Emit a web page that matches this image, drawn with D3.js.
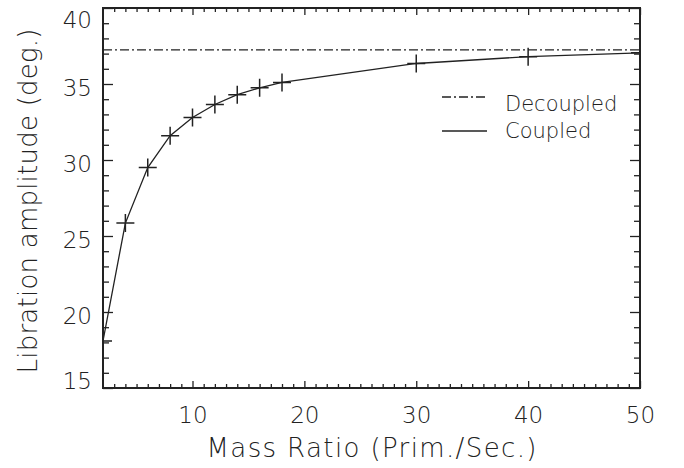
<!DOCTYPE html>
<html><head><meta charset="utf-8">
<script src="https://cdn.jsdelivr.net/npm/d3@7"></script>
<style>
body{margin:0;background:#fff;}
text{font-family:"DejaVu Sans",sans-serif;font-weight:200;fill:#222;}
</style></head>
<body><svg id="c" width="684" height="468"></svg>
<script>
const massRatio = [2, 4, 6, 8, 10, 12, 14, 16, 18, 30, 40, 50];
const coupled   = [18.1, 25.85, 29.5, 31.6, 32.8, 33.65, 34.3, 34.75, 35.1, 36.35, 36.8, 37.05];
const decoupled = 37.24;
const xTicks = [10, 20, 30, 40, 50];
const yTicks = [15, 20, 25, 30, 35, 40];
const legendLabels = ["Decoupled", "Coupled"];
const xTitle = "Mass Ratio (Prim./Sec.)";
const yTitle = "Libration amplitude (deg.)";

const svg = d3.select("#c");
const L = 103, R = 640, T = 8, B = 388;
const x = d3.scaleLinear().domain([2, 50]).range([L, R]);
const y = d3.scaleLinear().domain([15, 40]).range([B, T]);
const ink = "#222";
const FONT = "'DejaVu Sans', sans-serif";

const defs = svg.append("defs");
defs.append("clipPath").attr("id","clip").append("rect")
  .attr("x",L).attr("y",T).attr("width",R-L).attr("height",B-T);

// minor ticks
const xMinor = d3.range(3, 50);
const yMinor = d3.range(16, 40);
const xMajSet = new Set(xTicks), yMajSet = new Set(yTicks);

const axB = d3.axisBottom(x).tickValues(xMinor.filter(v=>!xMajSet.has(v))).tickSize(-4).tickFormat("");
const axT = d3.axisTop(x).tickValues(xMinor.filter(v=>!xMajSet.has(v))).tickSize(-4).tickFormat("");
const axL = d3.axisLeft(y).tickValues(yMinor.filter(v=>!yMajSet.has(v))).tickSize(-6).tickFormat("");
const axR = d3.axisRight(y).tickValues(yMinor.filter(v=>!yMajSet.has(v))).tickSize(-6).tickFormat("");
function styleAx(g){ g.select(".domain").remove(); g.selectAll("line").attr("stroke",ink).attr("stroke-width",1.3); }
svg.append("g").attr("transform",`translate(0,${B})`).call(axB).call(styleAx);
svg.append("g").attr("transform",`translate(0,${T})`).call(axT).call(styleAx);
svg.append("g").attr("transform",`translate(${L},0)`).call(axL).call(styleAx);
svg.append("g").attr("transform",`translate(${R},0)`).call(axR).call(styleAx);

// major ticks
const gxb = svg.append("g").attr("transform",`translate(0,${B})`)
  .call(d3.axisBottom(x).tickValues(xTicks).tickSize(-7).tickPadding(0).tickFormat(d3.format("d")));
gxb.select(".domain").remove();
gxb.selectAll("line").attr("stroke",ink).attr("stroke-width",1.3);
gxb.selectAll("text").attr("font-size",23).attr("y",35).attr("dy",null).attr("fill",ink)
  .style("font-family",FONT).style("font-weight",200);
const gxt = svg.append("g").attr("transform",`translate(0,${T})`)
  .call(d3.axisTop(x).tickValues(xTicks).tickSize(-7).tickFormat(""));
gxt.select(".domain").remove(); gxt.selectAll("line").attr("stroke",ink).attr("stroke-width",1.3);

const gyl = svg.append("g").attr("transform",`translate(${L},0)`)
  .call(d3.axisLeft(y).tickValues(yTicks).tickSize(-10).tickPadding(0).tickFormat(d3.format("d")));
gyl.select(".domain").remove();
gyl.selectAll("line").attr("stroke",ink).attr("stroke-width",1.3);
gyl.selectAll("text").attr("font-size",23).attr("x",-11)
  .attr("dy",d=> d===40?"19px": d===15?"0px":"11px")
  .attr("fill",ink).style("font-family",FONT).style("font-weight",200);
const gyr = svg.append("g").attr("transform",`translate(${R},0)`)
  .call(d3.axisRight(y).tickValues(yTicks).tickSize(-10).tickFormat(""));
gyr.select(".domain").remove(); gyr.selectAll("line").attr("stroke",ink).attr("stroke-width",1.3);

// frame
svg.append("rect").attr("x",L).attr("y",T).attr("width",R-L).attr("height",B-T)
  .attr("fill","none").attr("stroke",ink).attr("stroke-width",2);

// data
const plot = svg.append("g").attr("clip-path","url(#clip)");
const dashDot = "9,3,2,3";
plot.append("line").attr("x1",x(2)).attr("x2",x(50)).attr("y1",y(decoupled)).attr("y2",y(decoupled))
  .attr("stroke",ink).attr("stroke-width",1.3).attr("stroke-dasharray",dashDot);
const pts = massRatio.map((m,i)=>[m, coupled[i]]);
plot.append("path").datum(pts).attr("fill","none").attr("stroke",ink).attr("stroke-width",1.3)
  .attr("d", d3.line().x(d=>x(d[0])).y(d=>y(d[1])));
const s = 9;
plot.selectAll("path.cross").data(pts).join("path").attr("class","cross")
  .attr("d", d=>{const cx=x(d[0]), cy=y(d[1]); return `M${cx-s},${cy}H${cx+s}M${cx},${cy-s}V${cy+s}`;})
  .attr("stroke",ink).attr("stroke-width",1.5).attr("fill","none");

// legend
const lg = svg.append("g");
const legY = [97, 131];
lg.append("line").attr("x1",442).attr("x2",487).attr("y1",legY[0]).attr("y2",legY[0])
  .attr("stroke",ink).attr("stroke-width",1.3).attr("stroke-dasharray",dashDot);
lg.append("line").attr("x1",442).attr("x2",487).attr("y1",legY[1]).attr("y2",legY[1])
  .attr("stroke",ink).attr("stroke-width",1.3);
legendLabels.forEach((t,i)=>{
  lg.append("text").attr("x",505).attr("y",legY[i]+[14,7][i]).attr("font-size",21).text(t);
});

// titles
svg.append("text").attr("x",(L+R)/2).attr("y",457).attr("text-anchor","middle").attr("font-size",26)
  .attr("textLength",330).attr("lengthAdjust","spacing").text(xTitle);
svg.append("text").attr("transform",`translate(37,201) rotate(-90)`).attr("text-anchor","middle")
  .attr("font-size",26).attr("textLength",345).attr("lengthAdjust","spacing").text(yTitle);
</script></body></html>
